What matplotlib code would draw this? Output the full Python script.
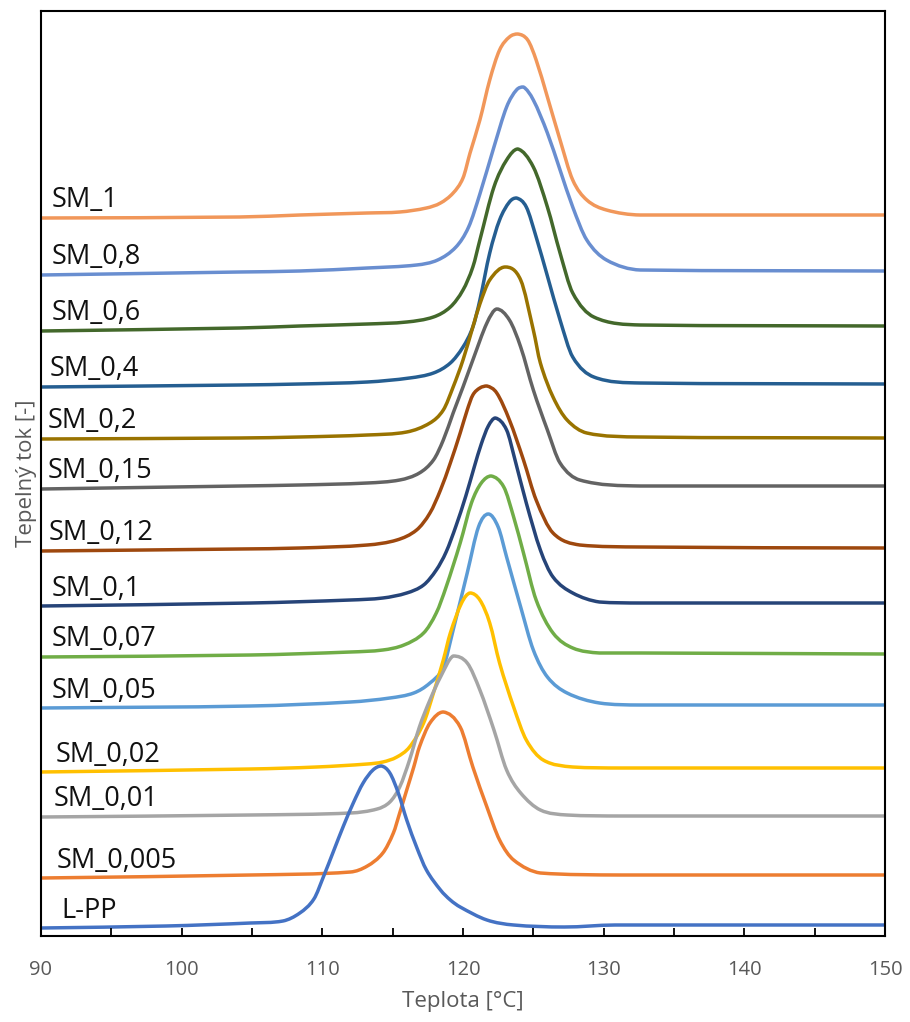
import matplotlib
matplotlib.use("Agg")
import numpy as np
import matplotlib.pyplot as plt
from matplotlib.path import Path
from matplotlib.patches import PathPatch
from matplotlib.ticker import MultipleLocator, NullFormatter

plt.rcParams['font.family'] = ['Open Sans', 'DejaVu Sans']

# ---- data (temperature [°C], heat flow [arb. units, stacked]) ----
t_lpp = [90, 98.9, 104.9, 107.2, 108.4, 109.4, 110.1, 110.8, 111.5, 112.2, 112.9, 113.6, 114.2, 114.8, 115.4, 116.0, 116.7, 117.4, 118.4, 119.1, 119.8, 121.7, 123.6, 127.2, 130.8, 150]
q_lpp = [0.8, 1.0, 1.3, 1.5, 2.3, 3.7, 6.0, 8.5, 11.0, 13.3, 15.3, 16.6, 17.0, 16.3, 14.3, 11.6, 8.9, 6.6, 4.6, 3.6, 2.9, 1.6, 1.1, 0.9, 1.1, 1.1]

t_005 = [90, 104.9, 112.0, 113.2, 114.3, 115.05, 115.5, 116.0, 116.5, 116.9, 117.65, 118.6, 119.8, 120.7, 121.7, 122.6, 123.6, 125.5, 131.2, 150]
q_005 = [5.8, 6.1, 6.4, 7.0, 8.3, 10.3, 12.3, 14.6, 16.9, 18.9, 21.3, 22.4, 20.9, 16.9, 12.9, 9.6, 7.6, 6.3, 6.1, 6.1]

t_001 = [90, 104.9, 112.0, 113.9, 114.8, 115.5, 116.2, 116.9, 117.65, 118.4, 119.3, 120.3, 121.2, 122.2, 123.1, 124.1, 125.5, 127.4, 131.2, 150]
q_001 = [11.9, 12.1, 12.3, 12.7, 13.4, 14.9, 17.6, 20.9, 23.6, 25.9, 28.0, 27.3, 24.6, 20.6, 16.6, 14.3, 12.6, 12.1, 12.0, 12.0]

t_002 = [90, 104.9, 109.6, 113.2, 114.3, 115.3, 116.2, 117.2, 117.9, 118.6, 119.1, 119.9, 120.5, 121.2, 121.9, 122.6, 123.6, 124.5, 125.7, 127.8, 131.2, 150]
q_002 = [16.4, 16.7, 16.9, 17.2, 17.4, 17.9, 18.9, 21.3, 24.3, 27.6, 30.3, 33.3, 34.3, 33.6, 31.3, 27.3, 22.9, 19.6, 17.6, 16.9, 16.8, 16.8]

t_005b = [90, 104.9, 112.0, 114.8, 116.5, 117.65, 118.6, 119.3, 120.3, 121.1, 121.8, 122.5, 123.1, 124.1, 125.0, 126.0, 127.4, 129.7, 132.6, 150]
q_005b = [22.8, 23.0, 23.4, 23.8, 24.3, 25.3, 26.9, 30.6, 36.3, 40.9, 42.2, 40.9, 37.9, 32.9, 28.6, 25.9, 24.3, 23.3, 23.1, 23.1]

t_007 = [90, 104.9, 112.0, 114.3, 115.8, 117.2, 118.1, 118.8, 119.8, 120.6, 121.3, 122.0, 122.9, 123.6, 124.3, 125.2, 126.4, 127.8, 129.7, 132.6, 150]
q_007 = [27.9, 28.1, 28.4, 28.6, 29.1, 30.3, 32.3, 34.9, 39.3, 43.3, 45.3, 46.0, 44.9, 41.9, 38.3, 33.6, 30.3, 28.8, 28.3, 28.3, 28.2]

t_01 = [90, 104.9, 112.0, 114.3, 116.0, 117.2, 118.1, 118.8, 119.5, 120.2, 120.8, 121.3, 121.8, 122.3, 123.1, 123.7, 124.5, 125.5, 126.4, 127.8, 129.7, 132.6, 150]
q_01 = [33.0, 33.3, 33.6, 33.8, 34.3, 35.1, 36.6, 38.4, 41.0, 44.0, 46.9, 49.2, 51.0, 51.8, 50.6, 47.6, 43.3, 38.6, 35.9, 34.3, 33.4, 33.3, 33.3]

t_012 = [90, 104.1, 108.4, 113.2, 115.3, 116.7, 117.65, 118.4, 119.1, 119.8, 120.3, 120.7, 121.2, 121.7, 122.4, 123.3, 124.3, 125.2, 126.4, 128.3, 132.6, 150]
q_012 = [38.5, 38.7, 38.8, 39.1, 39.6, 40.6, 42.3, 44.6, 47.3, 50.3, 52.6, 54.1, 54.8, 55.0, 54.3, 51.6, 47.6, 43.6, 40.3, 39.1, 38.9, 38.8]

t_015 = [90, 104.1, 108.4, 113.2, 115.5, 116.9, 117.9, 118.6, 119.3, 120.0, 120.7, 121.7, 122.4, 123.3, 124.1, 125.0, 126.0, 126.9, 128.3, 132.6, 150]
q_015 = [44.7, 45.0, 45.1, 45.3, 45.6, 46.3, 47.6, 49.6, 52.3, 54.9, 57.6, 61.3, 62.7, 61.6, 58.9, 54.6, 50.6, 47.3, 45.6, 45.0, 45.0]

t_02 = [90, 104.1, 108.4, 113.2, 116.0, 117.65, 118.6, 119.3, 120.0, 120.7, 121.2, 121.9, 123.0, 124.1, 125.0, 125.5, 126.4, 127.4, 128.8, 132.6, 150]
q_02 = [49.7, 49.8, 49.9, 50.1, 50.4, 51.3, 52.6, 54.9, 57.6, 60.9, 63.2, 65.6, 66.9, 65.6, 60.6, 57.3, 53.9, 51.6, 50.3, 49.9, 49.8]

t_04 = [90, 104.1, 108.4, 113.2, 116.2, 117.9, 119.1, 120.0, 120.7, 121.2, 121.9, 122.6, 123.3, 123.8, 124.5, 125.2, 126.0, 126.9, 127.8, 129.3, 132.6, 150]
q_04 = [54.9, 55.1, 55.2, 55.4, 55.8, 56.3, 57.3, 58.9, 60.9, 63.6, 68.3, 71.6, 73.4, 73.8, 72.9, 69.9, 66.0, 61.6, 57.9, 55.9, 55.3, 55.2]

t_06 = [90, 104.1, 108.4, 113.2, 116.0, 117.9, 119.1, 120.0, 120.7, 121.2, 122.2, 123.1, 123.9, 125.0, 126.0, 126.9, 127.8, 129.3, 132.6, 150]
q_06 = [60.5, 60.8, 61.0, 61.2, 61.4, 61.9, 62.9, 64.6, 66.9, 69.6, 74.9, 77.6, 78.7, 76.9, 72.9, 68.3, 64.3, 61.9, 61.1, 61.0]

t_08 = [90, 104.1, 108.4, 113.2, 116.7, 118.2, 119.5, 120.4, 121.2, 122.2, 123.1, 123.8, 124.3, 125.0, 126.0, 126.9, 127.8, 128.8, 130.2, 132.6, 150]
q_08 = [66.1, 66.4, 66.5, 66.8, 67.1, 67.6, 68.9, 70.9, 74.2, 78.9, 82.9, 84.6, 84.9, 83.6, 80.3, 76.6, 72.9, 69.6, 67.6, 66.6, 66.5]

t_1 = [90, 104.1, 108.4, 113.2, 115.5, 117.4, 118.4, 119.3, 120.0, 120.5, 121.2, 121.9, 122.6, 123.3, 123.9, 124.6, 125.2, 126.0, 126.9, 127.8, 128.8, 130.2, 132.6, 150]
q_1 = [71.8, 71.9, 72.1, 72.3, 72.4, 72.8, 73.3, 74.3, 75.8, 78.3, 81.6, 85.6, 88.6, 89.9, 90.2, 89.6, 87.6, 83.9, 79.6, 75.6, 73.6, 72.6, 72.1, 72.1]

series_names = ["SM_1", "SM_0,8", "SM_0,6", "SM_0,4", "SM_0,2", "SM_0,15", "SM_0,12",
                "SM_0,1", "SM_0,07", "SM_0,05", "SM_0,02", "SM_0,01", "SM_0,005", "L-PP"]
series_t = [t_1, t_08, t_06, t_04, t_02, t_015, t_012, t_01, t_007, t_005b, t_002, t_001, t_005, t_lpp]
series_q = [q_1, q_08, q_06, q_04, q_02, q_015, q_012, q_01, q_007, q_005b, q_002, q_001, q_005, q_lpp]
series_colors = ["#F1975A", "#698ED0", "#43682B", "#255E91", "#997300", "#636363", "#9E480E",
                 "#264478", "#70AD47", "#5B9BD5", "#FFC000", "#A5A5A5", "#ED7D31", "#4472C4"]

x_ticks = [90, 100, 110, 120, 130, 140, 150]

# label anchor (temperature) for each series name, separate from the data
label_t = [90.78, 90.78, 90.78, 90.64, 90.50, 90.50, 90.57,
           90.78, 90.78, 90.78, 91.07, 90.92, 91.14, 91.42]


def smooth_path(x, y):
    """Smoothed line (like Excel 'smoothed line') drawn as cubic Bezier
    segments through the read points; control points kept inside each
    segment's value range so the curve does not overshoot."""
    x = np.asarray(x, float)
    y = np.asarray(y, float)
    h = np.diff(x)
    d = np.diff(y) / h
    m = np.zeros_like(y)
    m[0], m[-1] = d[0], d[-1]
    for i in range(1, len(y) - 1):
        m[i] = (y[i + 1] - y[i - 1]) / (x[i + 1] - x[i - 1])
    verts = [(x[0], y[0])]
    codes = [Path.MOVETO]
    for i in range(len(x) - 1):
        lo, hi = min(y[i], y[i + 1]), max(y[i], y[i + 1])
        c1 = np.clip(y[i] + m[i] * h[i] / 3, lo, hi)
        c2 = np.clip(y[i + 1] - m[i + 1] * h[i] / 3, lo, hi)
        verts += [(x[i] + h[i] / 3, c1), (x[i + 1] - h[i] / 3, c2), (x[i + 1], y[i + 1])]
        codes += [Path.CURVE4] * 3
    return Path(verts, codes)


# ---- figure ----
fig = plt.figure(figsize=(9.10, 10.22), dpi=100)
ax = fig.add_axes([41 / 910, 86 / 1022, 844 / 910, 925 / 1022])

for t, q, c in zip(series_t, series_q, series_colors):
    ax.add_patch(PathPatch(smooth_path(t, q), facecolor='none', edgecolor=c,
                           lw=2.5, capstyle='round', joinstyle='round'))

for name, q, tx in zip(series_names, series_q, label_t):
    ax.text(tx, q[0] + 1.75, name, fontsize=19.5, color='#111111',
            ha='left', va='center')

ax.set_xlim(90, 150)
ax.set_ylim(0, 92.5)
ax.set_xticks(x_ticks)
ax.xaxis.set_minor_locator(MultipleLocator(5))
ax.xaxis.set_minor_formatter(NullFormatter())
ax.set_yticks([])
ax.tick_params(axis='x', which='both', direction='in', length=5.5, width=1.3,
               color='black', labelsize=14.5, labelcolor='#595959', pad=17)
for s in ax.spines.values():
    s.set_linewidth(1.5)
    s.set_color('black')

ax.set_xlabel("Teplota [°C]", fontsize=16, color='#595959', labelpad=8)
ax.set_ylabel("Tepelný tok [-]", fontsize=16, color='#595959', labelpad=3)

fig.savefig("out.png", dpi=100)
